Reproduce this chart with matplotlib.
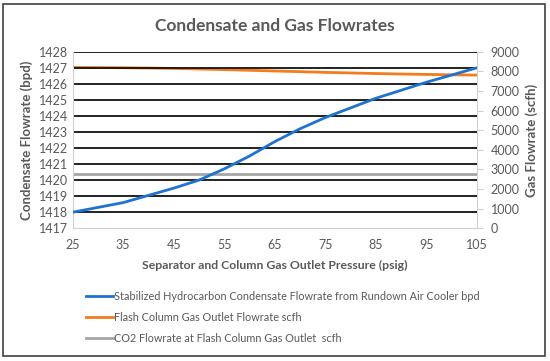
import numpy as np
import matplotlib
matplotlib.use("Agg")
from matplotlib import pyplot as plt
from matplotlib.lines import Line2D
from matplotlib.patches import Rectangle

plt.rcParams["font.family"] = ["Lato", "DejaVu Sans"]

pressure = [25, 30, 35, 40, 45, 50, 55, 60, 65, 70, 75, 80, 85, 90, 95, 100, 105]
condensate_bpd = [1418.0, 1418.3, 1418.6, 1419.05, 1419.5, 1420.0, 1420.7, 1421.5,
                  1422.4, 1423.2, 1423.9, 1424.5, 1425.1, 1425.6, 1426.1, 1426.55, 1427.0]
gas_scfh = [8200, 8195, 8185, 8170, 8150, 8120, 8090, 8055, 8020, 7985, 7950,
            7920, 7890, 7865, 7845, 7825, 7810]
co2_scfh = [2780] * len(pressure)

labels = ["Stabilized Hydrocarbon Condensate Flowrate from Rundown Air Cooler bpd",
          "Flash Column Gas Outlet Flowrate scfh",
          "CO2 Flowrate at Flash Column Gas Outlet  scfh"]
blue, orange, grey = "#1f72cf", "#f27c1e", "#a6a6a6"
txt = "#595959"

fig = plt.figure(figsize=(5.5, 3.61), dpi=100)
fig.patches.append(Rectangle((0.006, 0.013), 0.985, 0.975, transform=fig.transFigure,
                             fill=False, edgecolor="#404040", linewidth=1.2))

ax = fig.add_axes([0.132, 0.3676, 0.735, 0.489])
ax2 = ax.twinx()

ax.set_xlim(25, 105)
ax.set_ylim(1417, 1428)
ax.set_xticks(range(25, 106, 10))
ax.set_yticks(range(1417, 1429))
ax2.set_ylim(0, 9000)
ax2.set_yticks(range(0, 9001, 1000))

for y in range(1418, 1429):
    ax.axhline(y, color="#111111", linewidth=1.3, zorder=1)

ax2.plot(pressure, co2_scfh, color=grey, linewidth=2, zorder=3)
ax2.plot(pressure, gas_scfh, color=orange, linewidth=2, zorder=3)
ax.plot(pressure, condensate_bpd, color=blue, linewidth=2, zorder=4)
ax.set_zorder(ax2.get_zorder() + 1)
ax.patch.set_visible(False)

for a in (ax, ax2):
    for s in a.spines.values():
        s.set_visible(False)
    a.tick_params(colors=txt, labelsize=9, length=0)
ax.spines["left"].set_visible(True)
ax.spines["left"].set_color("#d0d0d0")
ax.spines["bottom"].set_visible(True)
ax.spines["bottom"].set_color("#d0d0d0")
ax2.spines["right"].set_visible(True)
ax2.spines["right"].set_color("#d0d0d0")
ax2.tick_params(axis="y", length=4, color="#d0d0d0", pad=6)
ax.tick_params(axis="x", pad=8)

ax.set_xlabel("Separator and Column Gas Outlet Pressure (psig)", color=txt,
              fontsize=8.8, fontweight="bold", labelpad=6)
ax.set_ylabel("Condensate Flowrate (bpd)", color=txt, fontsize=9.5, fontweight="bold")
ax2.set_ylabel("Gas Flowrate (scfh)", color=txt, fontsize=9.5, fontweight="bold")

fig.text(0.5, 0.928, "Condensate and Gas Flowrates", ha="center", va="center",
         color=txt, fontsize=12.5, fontweight="bold")

handles = [Line2D([], [], color=c, linewidth=2) for c in (blue, orange, grey)]
leg = fig.legend(handles, labels, loc="upper left", bbox_to_anchor=(0.148, 0.207),
                 frameon=False, fontsize=7.8, handlelength=2.5, handletextpad=0.15,
                 labelspacing=0.95, borderaxespad=0)
for t in leg.get_texts():
    t.set_color(txt)

fig.savefig("out.png", dpi=100)
